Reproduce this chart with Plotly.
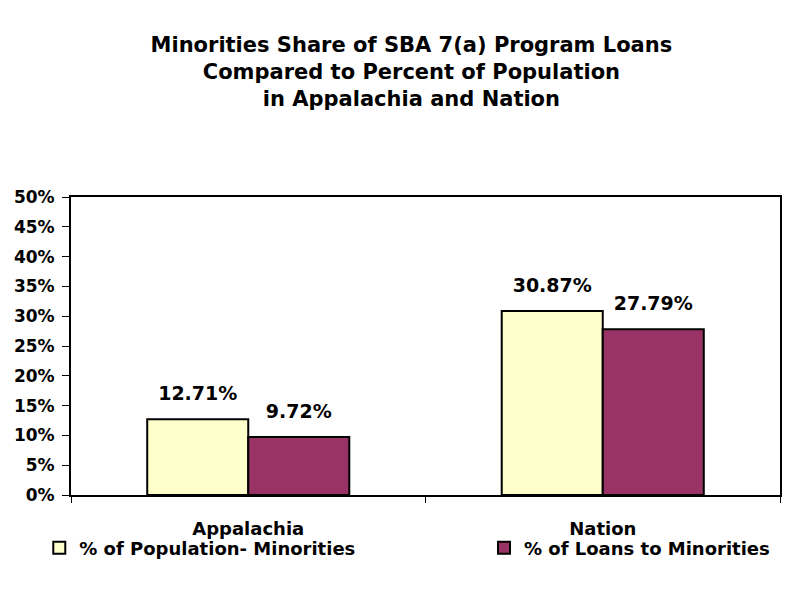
import plotly.graph_objects as go

categories = ["Appalachia", "Nation"]
pop_share = [12.71, 30.87]
loan_share = [9.72, 27.79]
series_names = ["% of Population- Minorities", "% of Loans to Minorities"]
series_colors = ["#FFFFCC", "#993366"]
tick_vals = [0, 5, 10, 15, 20, 25, 30, 35, 40, 45, 50]
tick_text = [f"{v}%" for v in tick_vals]

FONT = "DejaVu Sans, Arial, sans-serif"
GAP = 0.43

fig = go.Figure()
for i, (vals, name, col) in enumerate(zip([pop_share, loan_share], series_names, series_colors)):
    fig.add_trace(go.Bar(
        x=categories, y=vals, name=name,
        marker=dict(color=col, line=dict(color="black", width=2)),
        legend="legend" if i == 0 else "legend2",
    ))
for vals in [pop_share, loan_share]:
    fig.add_trace(go.Scatter(
        x=categories, y=vals, mode="markers+text",
        text=[f"{v:.2f}%" for v in vals], textposition="top center",
        marker=dict(size=22, opacity=0),
        textfont=dict(family=FONT, size=19, color="black", weight="bold"),
        showlegend=False, hoverinfo="skip", cliponaxis=False,
    ))

legend_font = dict(family=FONT, size=18, color="black", weight="bold")
fig.update_layout(
    width=802, height=590,
    margin=dict(l=63, r=30, t=189, b=103, autoexpand=False),
    paper_bgcolor="white", plot_bgcolor="white",
    barmode="group", bargap=GAP, bargroupgap=0,
    scattermode="group", scattergap=GAP,
    font=dict(family=FONT, color="black", size=18, weight="bold"),
    title=dict(
        text="Minorities Share of SBA 7(a) Program Loans<br>Compared to Percent of Population<br>in Appalachia and Nation",
        x=0.503, xanchor="center", y=0.926, yanchor="top",
        font=dict(family=FONT, size=21, color="black", weight="bold"),
    ),
    showlegend=True,
    legend=dict(
        orientation="h", xref="container", x=0.039, xanchor="left",
        yref="container", y=0.116, yanchor="top",
        font=legend_font, itemwidth=30, bgcolor="rgba(0,0,0,0)",
    ),
    legend2=dict(
        orientation="h", xref="container", x=0.5935, xanchor="left",
        yref="container", y=0.116, yanchor="top",
        font=legend_font, itemwidth=30, bgcolor="rgba(0,0,0,0)",
    ),
)
fig.update_xaxes(
    showline=True, linecolor="black", linewidth=2, mirror=True,
    ticks="outside", tickson="boundaries", ticklen=6, tickcolor="black", tickwidth=1,
    tickfont=dict(family=FONT, size=18, color="black", weight="bold"),
    ticklabelstandoff=16, automargin=False,
    showgrid=False,
)
fig.update_yaxes(
    range=[0, 50], tickvals=tick_vals, ticktext=tick_text,
    showline=True, linecolor="black", linewidth=2, mirror=True,
    ticks="outside", ticklen=7, tickcolor="black", tickwidth=1,
    tickfont=dict(family=FONT, size=17, color="black", weight="bold"),
    ticklabelstandoff=4, automargin=False,
    showgrid=False, zeroline=False,
)

fig.write_html("out.html")
